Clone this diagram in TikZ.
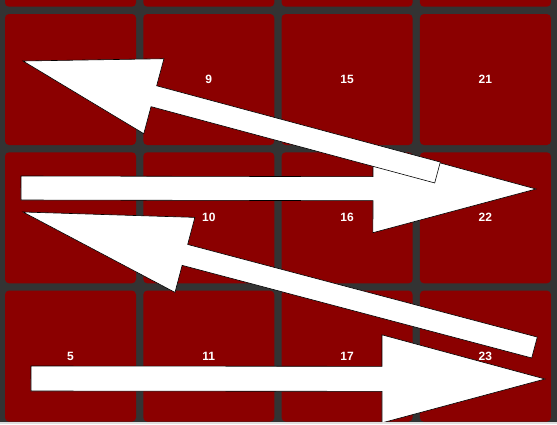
\documentclass[tikz,border=0pt]{standalone}
\usepackage{fontspec}
\setmainfont{Liberation Sans}
\usepackage{tikz}
\usetikzlibrary{calc}
\definecolor{board}{RGB}{51,51,51}
\definecolor{tilered}{RGB}{139,0,0}
\definecolor{strip}{RGB}{222,222,222}
% tail, tip, shaft half width, head half width, head length
\newcommand{\fatarrow}[5]{%
  \coordinate (hb) at ($(#2)!#5pt!(#1)$);
  \path[whitearrow] ($(#1)!#3pt!90:(#2)$) -- ($(hb)!#3pt!90:(#2)$) -- ($(hb)!#4pt!90:(#2)$)
    -- (#2) -- ($(hb)!#4pt!-90:(#2)$) -- ($(hb)!#3pt!-90:(#2)$) -- ($(#1)!#3pt!-90:(#2)$) -- cycle;}

\begin{document}
\begin{tikzpicture}[x=1pt, y=-1pt,
      tile/.style={fill=tilered, rounded corners=4pt, minimum size=131pt, inner sep=0pt,
                   text=white, font=\bfseries\fontsize{12}{14}\selectfont},
      whitearrow/.style={fill=white, draw=black, line width=0.6pt, line join=miter}]
    \useasboundingbox (0,0) rectangle (557,424);
    \clip (0,0) rectangle (557,424);
    \fill[board] (0,0) rectangle (557,424);
    \foreach \c in {1,...,4}
      \foreach \r in {0,...,3} {
        \pgfmathtruncatemacro\num{6*(\c-1)+\r+2}
        \pgfmathtruncatemacro\shown{(\r>0)*((\c>1)+(\r==3))}
        \node[tile] (t-\c-\r) at ({70.5+138.3*(\c-1)},{-58.8+138.3*\r}) {\ifnum\shown>0 \num\fi};
      }
    \coordinate (tail1) at (437.5,172.5); \coordinate (tip1) at (23,61);
    \coordinate (tail2) at (21,188);      \coordinate (tip2) at (536,189);
    \coordinate (tail3) at (534.5,347.5); \coordinate (tip3) at (23,212);
    \coordinate (tail4) at (31,378.5);    \coordinate (tip4) at (545,379);
    \fatarrow{tail2}{tip2}{12}{44}{163}
    \fatarrow{tail1}{tip1}{10.8}{38.8}{135.5}
    \fatarrow{tail3}{tip3}{10.8}{38.8}{167.5}
    \fatarrow{tail4}{tip4}{12.5}{44}{163}
    \fill[strip] (0,421.8) rectangle (557,424);
  \end{tikzpicture}
\end{document}
